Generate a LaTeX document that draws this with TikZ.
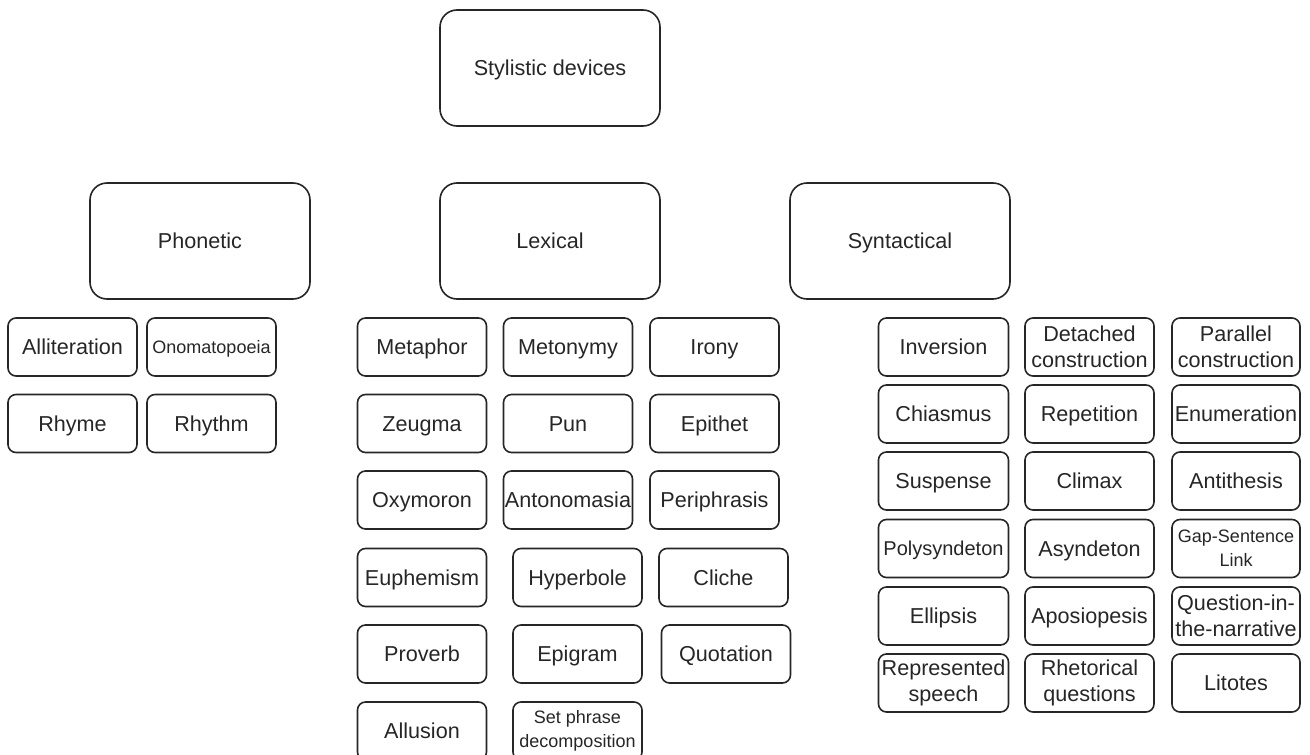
\documentclass[tikz,border=0pt]{standalone}
\usepackage{fontspec}
\setmainfont{Liberation Sans}
\begin{document}
\begin{tikzpicture}[x=1pt,y=-1pt,
  base/.style={draw=black!85,line width=1.6pt,inner sep=0pt,align=center,font=\fontsize{21.6}{26}\selectfont,text=black!85,text height=17pt,text depth=1.5pt},
  big/.style={base,rounded corners=17pt,minimum width=220pt,minimum height=116pt},
  item/.style={base,rounded corners=8pt,minimum width=129pt,minimum height=58pt},
  two/.style={text height={},text depth={}},
  small/.style={font=\fontsize{18}{24}\selectfont,text height=14pt,text depth=1.1pt},
  mid/.style={font=\fontsize{20}{25}\selectfont,text height=15.5pt,text depth=1.2pt}]
\useasboundingbox (0,0) rectangle (1310,755);
\clip (0,0) rectangle (1310,755);
\node[big] (root) at (550,68) {Stylistic devices};
\node[big] (phon) at (200,241) {Phonetic};
\node[big] (lex) at (550,241) {Lexical};
\node[big] (syn) at (900,241) {Syntactical};
% Phonetic
\node[item] (allit) at (72.5,347) {Alliteration};
\node[item,small] (onom) at (211.5,347) {Onomatopoeia};
\node[item] (rhyme) at (72.5,423.5) {Rhyme};
\node[item] (rhythm) at (211.5,423.5) {Rhythm};
% Lexical
\node[item] (metaphor) at (422,347) {Metaphor};
\node[item] (metonymy) at (568,347) {Metonymy};
\node[item] (irony) at (714.5,347) {Irony};
\node[item] (zeugma) at (422,423.5) {Zeugma};
\node[item] (pun) at (568,423.5) {Pun};
\node[item] (epithet) at (714.5,423.5) {Epithet};
\node[item] (oxy) at (422,500) {Oxymoron};
\node[item] (anton) at (568,500) {Antonomasia};
\node[item] (peri) at (714.5,500) {Periphrasis};
\node[item] (euph) at (422,577.5) {Euphemism};
\node[item] (hyper) at (577.5,577.5) {Hyperbole};
\node[item] (cliche) at (723.5,577.5) {Cliche};
\node[item] (proverb) at (422,654) {Proverb};
\node[item] (epigram) at (577.5,654) {Epigram};
\node[item] (quot) at (726,654) {Quotation};
\node[item] (allus) at (422,731) {Allusion};
\node[item,small,two] (setph) at (577.5,731) {Set phrase\\decomposition};
% Syntactical
\node[item,minimum width=130pt] (inv) at (943.5,347) {Inversion};
\node[item,two] (detach) at (1089.5,347) {Detached\\construction};
\node[item,minimum width=128pt,two] (paral) at (1236,347) {Parallel\\construction};
\node[item,minimum width=130pt] (chias) at (943.5,414) {Chiasmus};
\node[item] (repet) at (1089.5,414) {Repetition};
\node[item,minimum width=128pt] (enum) at (1236,414) {Enumeration};
\node[item,minimum width=130pt] (susp) at (943.5,481) {Suspense};
\node[item] (climax) at (1089.5,481) {Climax};
\node[item,minimum width=128pt] (antith) at (1236,481) {Antithesis};
\node[item,minimum width=130pt,mid] (poly) at (943.5,548.5) {Polysyndeton};
\node[item] (asyn) at (1089.5,548.5) {Asyndeton};
\node[item,minimum width=128pt,small,two] (gap) at (1236,548.5) {Gap-Sentence\\Link};
\node[item,minimum width=130pt] (ellip) at (943.5,616) {Ellipsis};
\node[item] (aposio) at (1089.5,616) {Aposiopesis};
\node[item,minimum width=128pt,two] (qin) at (1236,616) {Question-in-\\the-narrative};
\node[item,minimum width=130pt,two] (repr) at (943.5,683) {Represented\\speech};
\node[item,two] (rhet) at (1089.5,683) {Rhetorical\\questions};
\node[item,minimum width=128pt] (litot) at (1236,683) {Litotes};
\end{tikzpicture}
\end{document}
